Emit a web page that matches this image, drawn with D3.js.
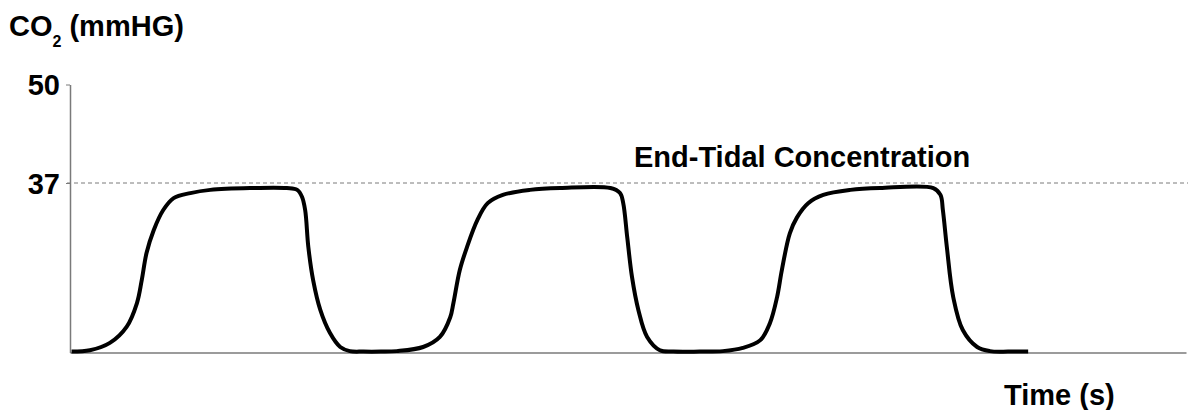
<!DOCTYPE html>
<html>
<head>
<meta charset="utf-8">
<script src="https://cdn.jsdelivr.net/npm/d3@7"></script>
<style>
  html, body { margin: 0; padding: 0; background: #fff; }
  svg { display: block; font-family: "Liberation Sans", Arial, sans-serif; }
  .lbl { font-weight: bold; fill: #000; }
</style>
</head>
<body>
<div id="chart"></div>
<script>
// Capnogram trace
const timeS = [
  0.02, 0.25, 0.50, 0.71, 0.84, 0.90, 0.96, 1.05, 1.17, 1.30, 1.51, 1.76, 2.26, 2.72, 2.85,
  2.91, 2.95, 2.99, 3.05, 3.14, 3.26, 3.39, 3.51, 3.68, 3.90, 4.10, 4.43, 4.64, 4.77,
  4.81, 4.89, 4.98, 5.11, 5.24, 5.43, 5.77, 6.15, 6.78, 6.90,
  6.94, 6.99, 7.05, 7.13, 7.24, 7.40, 7.57, 7.90, 8.19, 8.44, 8.66, 8.78,
  8.87, 8.93, 9.03, 9.12, 9.26, 9.45, 9.79, 10.16, 10.83, 10.92,
  10.95, 11.00, 11.08, 11.20, 11.38, 11.54, 11.78, 12.02
];
const co2mmHg = [
  0.2, 0.5, 2.1, 5.6, 10.8, 15.8, 21.7, 26.7, 31.1, 33.7, 34.8, 35.5, 35.9, 35.9, 35.5,
  34.0, 31.1, 23.0, 15.8, 9.3, 4.3, 1.2, 0.3, 0.2, 0.2, 0.3, 1.2, 3.4, 7.7,
  10.8, 18.0, 23.0, 28.9, 32.6, 34.4, 35.5, 35.9, 35.9, 34.8,
  32.6, 25.2, 16.5, 9.3, 3.4, 0.5, 0.2, 0.2, 0.3, 1.0, 2.7, 6.4,
  12.1, 18.0, 26.0, 29.5, 32.6, 34.4, 35.5, 35.9, 35.9, 34.4,
  31.1, 23.0, 12.1, 4.9, 1.2, 0.3, 0.2, 0.2
];
const yTicks = [50, 37];
const endTidal = 37;
const xMaxS = 14;

const W = 1188, H = 410;
const plotL = 70, plotR = 1186, plotT = 84.5, plotB = 352.5;
const fontPx = 29;

const svg = d3.select('#chart').append('svg')
  .attr('width', W).attr('height', H)
  .attr('viewBox', [0, 0, W, H]);

const x = d3.scaleLinear().domain([0, xMaxS]).range([plotL, plotR]);
// schematic axis: 0..37 and 37..50 are not drawn at the same scale
const y = d3.scaleLinear().domain([0, endTidal, 50]).range([plotB, 183, plotT]);

// end-tidal reference line
svg.append('line')
  .attr('x1', plotL - 3).attr('x2', W)
  .attr('y1', y(endTidal)).attr('y2', y(endTidal))
  .attr('stroke', '#7a7a7a').attr('stroke-width', 1)
  .attr('stroke-dasharray', '4,3');

// axes
const xAxis = svg.append('g')
  .attr('transform', `translate(0,${plotB})`)
  .call(d3.axisBottom(x).tickValues([]).tickSizeOuter(0));
xAxis.select('.domain').attr('stroke', '#7a7a7a').attr('stroke-width', 1.5);

const yAxis = svg.append('g')
  .attr('transform', `translate(${plotL},0)`)
  .call(d3.axisLeft(y).tickValues(yTicks).tickSize(4).tickSizeOuter(0).tickPadding(6));
yAxis.select('.domain').attr('stroke', '#7a7a7a').attr('stroke-width', 1.5);
yAxis.selectAll('.tick line').attr('stroke', '#7a7a7a');
yAxis.selectAll('.tick text')
  .attr('class', 'lbl')
  .style('font-size', fontPx + 'px')
  .style('font-family', '"Liberation Sans", Arial, sans-serif')
  .attr('dy', '0.36em');

// waveform
const pts = timeS.map((t, i) => [t, co2mmHg[i]]);
const line = d3.line()
  .x(d => x(d[0]))
  .y(d => y(d[1]))
  .curve(d3.curveCatmullRom.alpha(0.5));

svg.append('path')
  .datum(pts)
  .attr('d', line)
  .attr('fill', 'none')
  .attr('stroke', '#000')
  .attr('stroke-width', 4)
  .attr('stroke-linejoin', 'round')
  .attr('stroke-linecap', 'butt');

// labels
const title = svg.append('text').attr('class', 'lbl')
  .attr('x', 9).attr('y', 36).style('font-size', fontPx + 'px');
title.append('tspan').text('CO');
title.append('tspan').attr('dy', 11).style('font-size', '16px').text('2');
title.append('tspan').attr('dy', -11).text(' (mmHG)');

svg.append('text').attr('class', 'lbl')
  .attr('x', 634).attr('y', 167).style('font-size', fontPx + 'px')
  .text('End-Tidal Concentration');

svg.append('text').attr('class', 'lbl')
  .attr('x', 1004).attr('y', 405).style('font-size', fontPx + 'px')
  .text('Time (s)');
</script>
</body>
</html>
